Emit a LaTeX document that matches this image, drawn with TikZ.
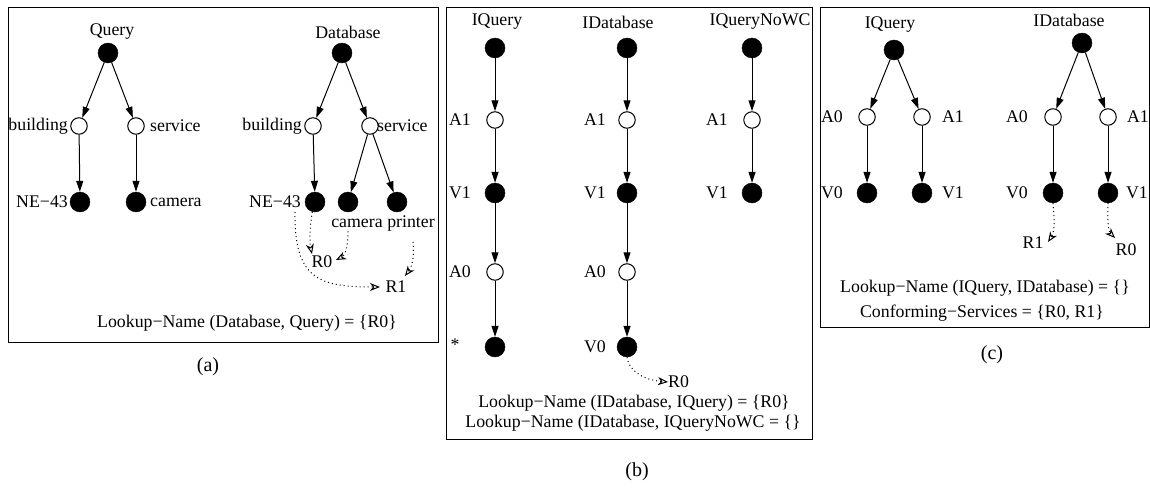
\documentclass[tikz,border=0pt]{standalone}
\usepackage{fontspec}
\setmainfont{Liberation Serif}
\usetikzlibrary{arrows.meta}
\begin{document}
\begin{tikzpicture}[x=1pt,y=-1pt,
  full/.style={circle,fill=black,draw=black,minimum size=20pt,inner sep=0pt},
  hollow/.style={circle,fill=white,draw=black,line width=1pt,minimum size=16.5pt,inner sep=0pt},
  txt/.style={inner sep=0pt,font=\fontsize{17.8}{21}\selectfont},
  captxt/.style={inner sep=0pt,font=\fontsize{20}{24}\selectfont},
  treeline/.style={-{Triangle[length=11pt,width=7pt]},line width=1pt},
  refline/.style={dash pattern=on 1pt off 3pt,line width=1pt,-{Stealth[open,length=10pt,width=8pt,inset=3pt]}},
  panel/.style={draw,line width=0.8pt}]
\useasboundingbox (0,0) rectangle (1150,487);
% ---------------- panel boxes
\draw[panel] (8,7) rectangle (438,342);
\draw[panel] (446,7) rectangle (812,439);
\draw[panel] (820,7) rectangle (1149.5,327);
\node[captxt] (capa) at (208,367) {(a)};
\node[captxt] (capb) at (637,472) {(b)};
\node[captxt] (capc) at (992,355) {(c)};
% ================= panel (a)
\node[txt] (qlab) at (112,32) {Query};
\node[full] (qr) at (108,53) {};
\node[hollow] (qb) at (79,126) {};
\node[hollow] (qs) at (136,126) {};
\node[full] (qn) at (80,202) {};
\node[full] (qc) at (136,202) {};
\node[txt,anchor=east] (qbl) at (68,126) {building};
\node[txt,anchor=west] (qsl) at (150,126) {service};
\node[txt,anchor=east] (qnl) at (68,202) {NE−43};
\node[txt,anchor=west] (qcl) at (150,202) {camera};
\draw[treeline] (qr) -- (qb);
\draw[treeline] (qr) -- (qs);
\draw[treeline] (qb) -- (qn);
\draw[treeline] (qs) -- (qc);
\node[txt] (dlab) at (348,32) {Database};
\node[full] (dr) at (342,53) {};
\node[hollow] (db) at (313,126) {};
\node[hollow] (ds) at (370,126) {};
\node[full] (dn) at (315,202) {};
\node[full] (dc) at (348,202) {};
\node[full] (dp) at (397,202) {};
\node[txt,anchor=east] (dbl) at (302,126) {building};
\node[txt,anchor=west] (dsl) at (377,126) {service};
\node[txt,anchor=east] (dnl) at (301,202) {NE−43};
\node[txt] (dcl) at (357,223) {camera};
\node[txt] (dpl) at (411,223) {printer};
\draw[treeline] (dr) -- (db);
\draw[treeline] (dr) -- (ds);
\draw[treeline] (db) -- (dn);
\draw[treeline] (ds) -- (dc);
\draw[treeline] (ds) -- (dp);
\node[txt] (ar0) at (322,262) {R0};
\node[txt] (ar1) at (396,287) {R1};
\coordinate (ar0a) at (312,254);
\coordinate (ar0b) at (336,260);
\coordinate (ar1a) at (380,287);
\coordinate (ar1b) at (405,276);
\draw[refline] (dn.-105) .. controls (309,230) and (310,245) .. (ar0a);
\draw[refline] ([xshift=-9pt,yshift=-4pt]dcl.south) .. controls (348,250) and (344,256) .. (ar0b);
\draw[refline] ([xshift=-6pt,yshift=-4pt]dnl.south east) .. controls (294,280) and (320,287) .. (ar1a);
\draw[refline] ([xshift=2pt,yshift=-11pt]dpl.south) .. controls (415,258) and (411,268) .. (ar1b);
\node[txt] (fa) at (247,323) {Lookup−Name (Database, Query) = \{R0\}};
% ================= panel (b)
\node[txt] (b1lab) at (497,22) {IQuery};
\node[full] (b1r) at (495,48) {};
\node[hollow] (b1a1) at (495,120) {};
\node[full] (b1v1) at (495,193) {};
\node[hollow] (b1a0) at (495,272) {};
\node[full] (b1s) at (495,347) {};
\node[txt] (b1a1l) at (460,120) {A1};
\node[txt] (b1v1l) at (460,193) {V1};
\node[txt] (b1a0l) at (460,272) {A0};
\node[txt] (b1sl) at (455,345) {*};
\draw[treeline] (b1r) -- (b1a1);
\draw[treeline] (b1a1) -- (b1v1);
\draw[treeline] (b1v1) -- (b1a0);
\draw[treeline] (b1a0) -- (b1s);
\node[txt] (b2lab) at (618,22) {IDatabase};
\node[full] (b2r) at (627,48) {};
\node[hollow] (b2a1) at (627,120) {};
\node[full] (b2v1) at (627,193) {};
\node[hollow] (b2a0) at (627,272) {};
\node[full] (b2v0) at (627,347) {};
\node[txt] (b2a1l) at (595,120) {A1};
\node[txt] (b2v1l) at (595,193) {V1};
\node[txt] (b2a0l) at (595,272) {A0};
\node[txt] (b2v0l) at (595,347) {V0};
\draw[treeline] (b2r) -- (b2a1);
\draw[treeline] (b2a1) -- (b2v1);
\draw[treeline] (b2v1) -- (b2a0);
\draw[treeline] (b2a0) -- (b2v0);
\node[txt] (b3lab) at (760,22) {IQueryNoWC};
\node[full] (b3r) at (752,48) {};
\node[hollow] (b3a1) at (752,120) {};
\node[full] (b3v1) at (752,193) {};
\node[txt] (b3a1l) at (717,120) {A1};
\node[txt] (b3v1l) at (717,193) {V1};
\draw[treeline] (b3r) -- (b3a1);
\draw[treeline] (b3a1) -- (b3v1);
\node[txt,anchor=west] (br0) at (668,382) {R0};
\draw[refline] (b2v0.south) .. controls (629,372) and (645,380) .. (br0.west);
\node[txt] (fb1) at (634,403) {Lookup−Name (IDatabase, IQuery) = \{R0\}};
\node[txt] (fb2) at (633,423) {Lookup−Name (IDatabase, IQueryNoWC = \{\}};
% ================= panel (c)
\node[txt] (c1lab) at (890,25) {IQuery};
\node[full] (c1r) at (894,50) {};
\node[hollow] (c1a0) at (867,117) {};
\node[hollow] (c1a1) at (922,117) {};
\node[full] (c1v0) at (867,193) {};
\node[full] (c1v1) at (922,193) {};
\node[txt] (c1a0l) at (832,117) {A0};
\node[txt] (c1a1l) at (953,117) {A1};
\node[txt] (c1v0l) at (832,193) {V0};
\node[txt] (c1v1l) at (953,193) {V1};
\draw[treeline] (c1r) -- (c1a0);
\draw[treeline] (c1r) -- (c1a1);
\draw[treeline] (c1a0) -- (c1v0);
\draw[treeline] (c1a1) -- (c1v1);
\node[txt] (c2lab) at (1069,20) {IDatabase};
\node[full] (c2r) at (1082,43) {};
\node[hollow] (c2a0) at (1053,117) {};
\node[hollow] (c2a1) at (1108,117) {};
\node[full] (c2v0) at (1053,193) {};
\node[full] (c2v1) at (1108,193) {};
\node[txt] (c2a0l) at (1017,117) {A0};
\node[txt] (c2a1l) at (1138,117) {A1};
\node[txt] (c2v0l) at (1017,193) {V0};
\node[txt] (c2v1l) at (1137,193) {V1};
\draw[treeline] (c2r) -- (c2a0);
\draw[treeline] (c2r) -- (c2a1);
\draw[treeline] (c2a0) -- (c2v0);
\draw[treeline] (c2a1) -- (c2v1);
\node[txt] (cr1) at (1033,243) {R1};
\node[txt] (cr0) at (1126,250) {R0};
\coordinate (cr1t) at (1048,242);
\coordinate (cr0t) at (1115,238);
\draw[refline] (c2v0.south) .. controls (1055,222) and (1054,233) .. (cr1t);
\draw[refline] (c2v1.south) .. controls (1107,222) and (1109,232) .. (cr0t);
\node[txt] (fc1) at (985,288) {Lookup−Name (IQuery, IDatabase) = \{\}};
\node[txt] (fc2) at (982,313) {Conforming−Services = \{R0, R1\}};
\end{tikzpicture}
\end{document}
